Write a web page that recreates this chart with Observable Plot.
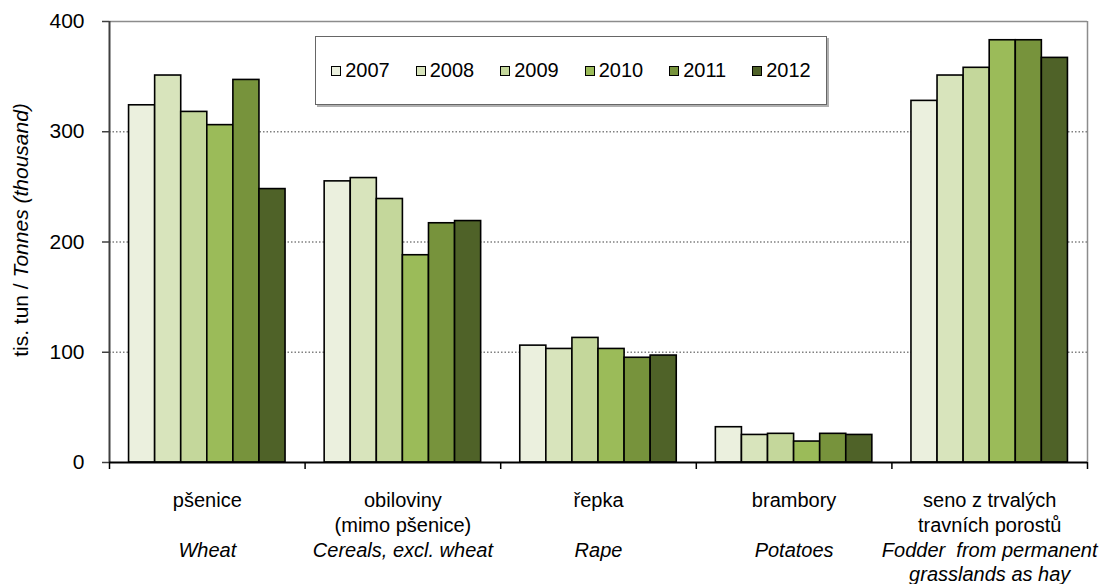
<!DOCTYPE html>
<html>
<head>
<meta charset="utf-8">
<script src="https://cdn.jsdelivr.net/npm/d3@7"></script>
<script src="https://cdn.jsdelivr.net/npm/@observablehq/plot@0.6"></script>
<style>
  body { margin: 0; background: white; }
  #wrap { position: relative; width: 1109px; height: 584px; font-family: "Liberation Sans", Arial, sans-serif; }
  #legend {
    position: absolute; left: 315px; top: 36px; width: 510px; height: 67px;
    border: 1.5px solid #666; background: white; box-shadow: 2px 2px 0 #b0b0b0;
    display: flex; align-items: center; justify-content: center; gap: 26px;
    font-size: 20px; color: #000;
  }
  .item { display: flex; align-items: center; gap: 4px; }
  .sw { width: 8px; height: 8px; border: 1.5px solid #000; display: inline-block; }
</style>
</head>
<body>
<div id="wrap"></div>
<script>
// ---- data ----
const categoriesCz = ["pšenice", "obiloviny\n(mimo pšenice)", "řepka", "brambory", "seno z trvalých\ntravních porostů"];
const categoriesEn = ["Wheat", "Cereals, excl. wheat", "Rape", "Potatoes", "Fodder  from permanent\ngrasslands as hay"];
const years = ["2007", "2008", "2009", "2010", "2011", "2012"];
const colors = ["#EBF0DE", "#D8E4BC", "#C4D79B", "#9BBB59", "#77933C", "#4F6228"];
const v2007 = [324, 255, 106, 32, 328];
const v2008 = [351, 258, 103, 25, 351];
const v2009 = [318, 239, 113, 26, 358];
const v2010 = [306, 188, 103, 19, 383];
const v2011 = [347, 217, 95, 26, 383];
const v2012 = [248, 219, 97, 25, 367];
const yTicks = [0, 100, 200, 300, 400];

// ---- table ----
const series = [v2007, v2008, v2009, v2010, v2011, v2012];
const pad = 0.75;                     // outer padding within each group (in bar widths)
const G = years.length + 2 * pad;     // group width in bar units
const table = [];
categoriesCz.forEach((c, g) => {
  years.forEach((y, i) => {
    table.push({cat: c, year: y, value: series[i][g], x1: g * G + pad + i, x2: g * G + pad + i + 1});
  });
});
const boundaries = d3.range(categoriesCz.length + 1).map(g => g * G);
const labels = categoriesCz.map((c, g) => ({cz: c, en: categoriesEn[g], xc: g * G + G / 2}));

const chart = Plot.plot({
  width: 1109, height: 584,
  marginLeft: 109, marginRight: 22, marginTop: 21, marginBottom: 122,
  style: {fontFamily: "'Liberation Sans', Arial, sans-serif", fontSize: "20px", color: "#000", background: "white"},
  x: {domain: [0, categoriesCz.length * G], axis: null},
  y: {domain: [0, 400], axis: null},
  color: {domain: years, range: colors},
  marks: [
    Plot.ruleY(yTicks.filter(v => v > 0 && v < 400), {stroke: "#808080", strokeWidth: 1.5, strokeDasharray: "1.5,2"}),
    Plot.ruleY([400], {stroke: "#8c8c8c", strokeWidth: 1.5}),
    Plot.ruleX([categoriesCz.length * G], {stroke: "#8c8c8c", strokeWidth: 1.5}),
    Plot.rectY(table, {x1: "x1", x2: "x2", y: "value", fill: "year", stroke: "#000", strokeWidth: 1.6}),
    Plot.ruleX([0], {stroke: "#404040", strokeWidth: 2}),
    Plot.ruleY([0], {stroke: "#000", strokeWidth: 2}),
    Plot.axisY(yTicks, {label: null, tickSize: 7, tickPadding: 18, stroke: "#404040", strokeWidth: 1.5, fontSize: 21, fill: "#000"}),
    Plot.axisX(boundaries, {label: null, tickSize: 7, tickFormat: () => "", stroke: "#000", strokeWidth: 1.5}),
    Plot.text(labels, {x: "xc", text: "cz", frameAnchor: "bottom", lineAnchor: "top", dy: 27, lineHeight: 1.25, fontSize: 20, fill: "#000"}),
    Plot.text(labels, {x: "xc", text: "en", frameAnchor: "bottom", lineAnchor: "top", dy: 77, lineHeight: 1.22, fontSize: 20, fontStyle: "italic", fill: "#000"})
  ]
});

const wrap = document.getElementById("wrap");
wrap.appendChild(chart);

// y-axis title with mixed styles
const svg = d3.select(chart);
const t = svg.append("text")
  .attr("transform", "translate(28,230) rotate(-90)")
  .attr("text-anchor", "middle")
  .attr("font-size", 21)
  .attr("fill", "#000");
t.append("tspan").text("tis. tun / ");
t.append("tspan").attr("font-style", "italic").text("Tonnes (thousand)");

// legend
const leg = document.createElement("div");
leg.id = "legend";
years.forEach((y, i) => {
  const it = document.createElement("div");
  it.className = "item";
  const sw = document.createElement("span");
  sw.className = "sw";
  sw.style.background = colors[i];
  const tx = document.createElement("span");
  tx.textContent = y;
  it.appendChild(sw); it.appendChild(tx);
  leg.appendChild(it);
});
wrap.appendChild(leg);
</script>
</body>
</html>
